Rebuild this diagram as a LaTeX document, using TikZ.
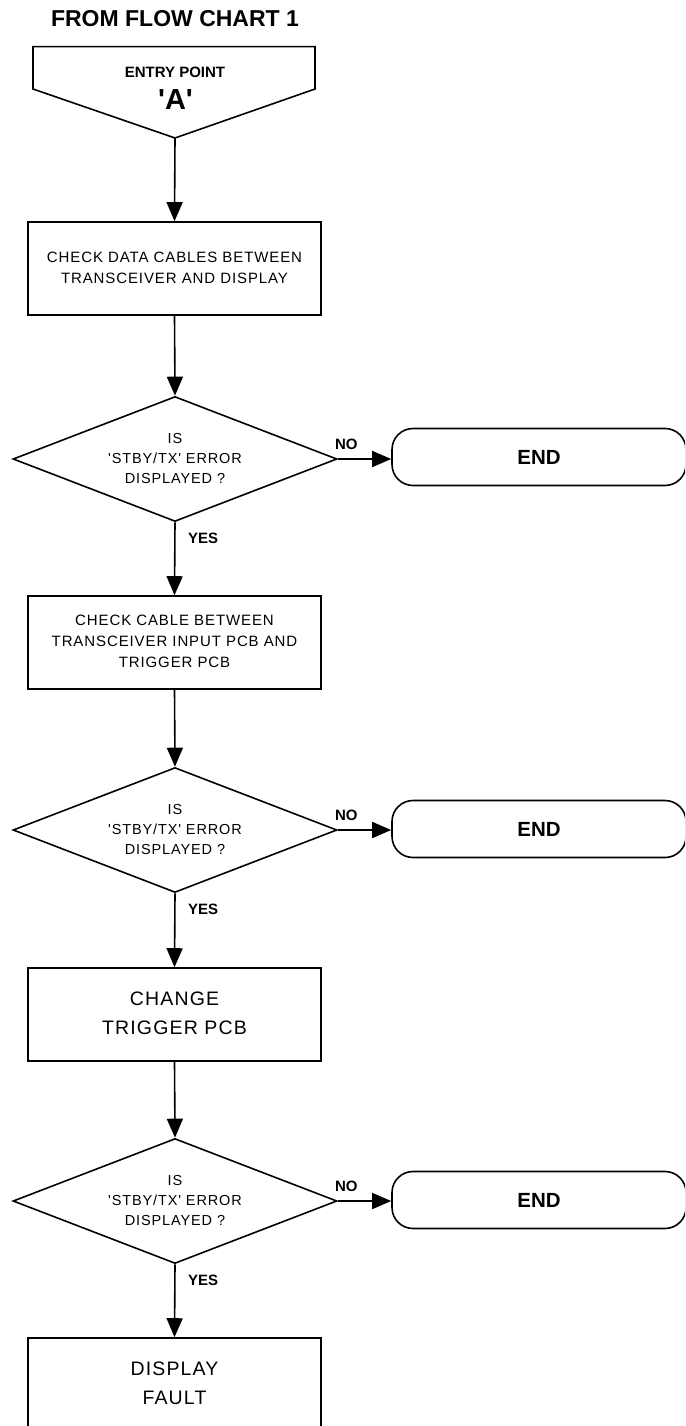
\documentclass[tikz,border=0pt]{standalone}
\usepackage{fontspec}
\setmainfont{Liberation Sans}[Ligatures=TeXOff]
\newfontfamily\trk{Liberation Sans}[Ligatures=TeXOff,LetterSpace=6]
\usetikzlibrary{arrows.meta,shapes.geometric,calc}
\tikzset{
  stroke/.style={line width=1.6pt},
  arr/.style={line width=1.6pt,-{Triangle[length=19pt,width=16pt]}},
  procbox/.style={draw,line width=1.6pt,minimum width=293pt,minimum height=93pt,inner sep=0pt,align=center,
    font=\trk\fontsize{15}{21}\selectfont},
  bigbox/.style={procbox,font=\trk\fontsize{19.5}{28.5}\selectfont},
  decision/.style={draw,line width=1.6pt,diamond,aspect=2.57,minimum width=324pt,minimum height=125pt,inner sep=0pt,
    align=center,font=\trk\fontsize{14.5}{20}\selectfont},
  endbox/.style={draw,line width=1.6pt,rounded corners=21pt,minimum width=294pt,minimum height=57pt,inner sep=0pt,
    font=\bfseries\fontsize{20.5}{24}\selectfont},
  lbl/.style={font=\bfseries\fontsize{15}{18}\selectfont,inner sep=0pt},
}
\begin{document}
\begin{tikzpicture}[x=1pt,y=-1pt]
\useasboundingbox (0,0) rectangle (685,1426);
\clip (0,0) rectangle (685,1426);
% title
\node[font=\bfseries\fontsize{23}{27}\selectfont,anchor=base,inner sep=0pt] (title) at (175,27) {FROM FLOW CHART 1};
% entry point
\draw[stroke,line join=miter] (33,46.7) -- (315,46.7) -- (315,89) -- (175,138) -- (33,89) -- cycle;
\coordinate (entryTip) at (175,138);
\node[lbl,anchor=base] (entrytxt) at (175,77.3) {ENTRY POINT};
\node[font=\bfseries\fontsize{29}{32}\selectfont,anchor=base,inner sep=0pt] (entryA) at (175.5,110) {'A'};
% boxes
\node[procbox] (box1) at (174.5,268.5) {\raisebox{-2pt}{\begin{tabular}{@{}c@{}}CHECK DATA CABLES BETWEEN\\TRANSCEIVER AND DISPLAY\end{tabular}}};
\node[decision] (d1) at (175,459) {\raisebox{4pt}{\begin{tabular}{@{}c@{}}IS\\'STBY/TX' ERROR\\DISPLAYED ?\end{tabular}}};
\node[endbox] (end1) at (539,457) {END};
\node[procbox] (box2) at (174.5,642.5) {\begin{tabular}{@{}c@{}}CHECK CABLE BETWEEN\\TRANSCEIVER INPUT PCB AND\\TRIGGER PCB\end{tabular}};
\node[decision] (d2) at (175,830) {\raisebox{4pt}{\begin{tabular}{@{}c@{}}IS\\'STBY/TX' ERROR\\DISPLAYED ?\end{tabular}}};
\node[endbox] (end2) at (539,829) {END};
\node[bigbox] (box3) at (174.5,1014.5) {\raisebox{-2pt}{\begin{tabular}{@{}c@{}}CHANGE\\TRIGGER PCB\end{tabular}}};
\node[decision] (d3) at (175,1201) {\raisebox{4pt}{\begin{tabular}{@{}c@{}}IS\\'STBY/TX' ERROR\\DISPLAYED ?\end{tabular}}};
\node[endbox] (end3) at (539,1200) {END};
\node[bigbox] (box4) at (174.5,1384.5) {\raisebox{-2pt}{\begin{tabular}{@{}c@{}}DISPLAY\\FAULT\end{tabular}}};
% connectors
\draw[arr] (entryTip) -- (box1.north);
\draw[arr] (box1.south) -- (d1.north);
\draw[arr] (d1.south) -- (box2.north);
\draw[arr] (box2.south) -- (d2.north);
\draw[arr] (d2.south) -- (box3.north);
\draw[arr] (box3.south) -- (d3.north);
\draw[arr] (d3.south) -- (box4.north);
\draw[arr] (d1.east) -- (d1.east -| end1.west);
\draw[arr] (d2.east) -- (d2.east -| end2.west);
\draw[arr] (d3.east) -- (d3.east -| end3.west);
% labels
\foreach \d in {d1,d2,d3}{
  \node[lbl,anchor=base west] (\d yes) at ($(\d.south)+(13,21)$) {YES};
  \node[lbl,anchor=base west] (\d no) at ($(\d.east)+(-3,-10)$) {NO};
}
\end{tikzpicture}
\end{document}
